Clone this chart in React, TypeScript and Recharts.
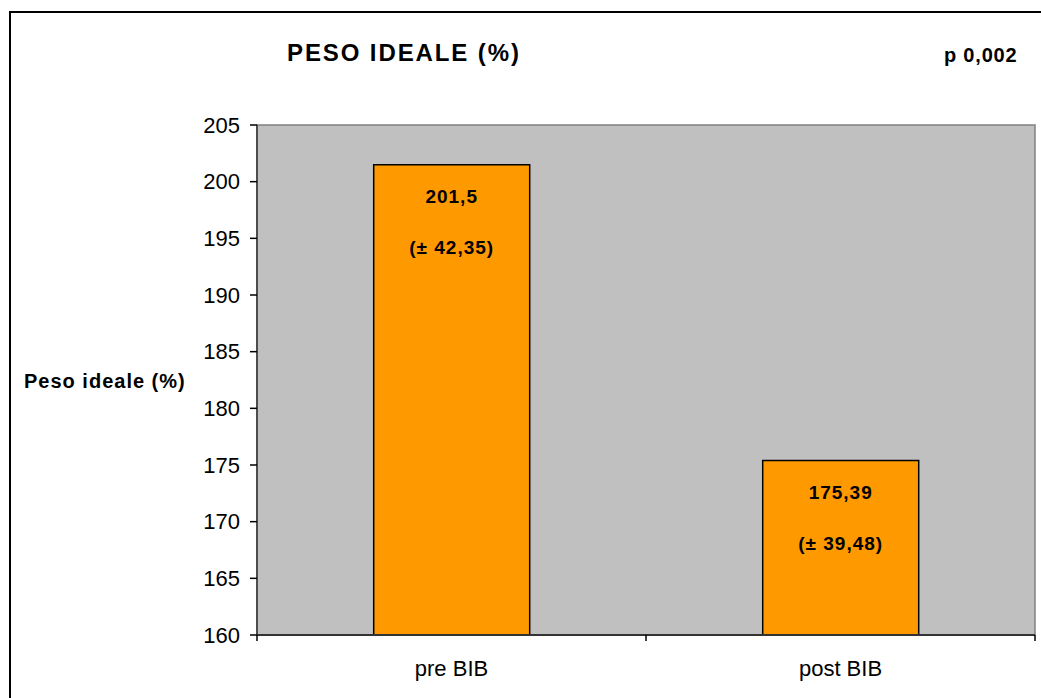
import { Bar, BarChart, LabelList, ReferenceArea, XAxis, YAxis } from "recharts"

const categories = ["pre BIB", "post BIB"]
const means = [201.5, 175.39]
const sds = [42.35, 39.48]
const yTicks = [160, 165, 170, 175, 180, 185, 190, 195, 200, 205]

const data = categories.map((name, i) => ({ name, value: means[i], sd: sds[i] }))

const fmt = (v: number) => String(v).replace(".", ",")

const W = 1041
const H = 698
const PLOT_LEFT = 257
const PLOT_RIGHT = 1035
const HALF_BAND = (PLOT_RIGHT - PLOT_LEFT) / (2 * categories.length)
const font = "'Liberation Sans', Arial, sans-serif"

function XTick(props: any) {
  const { x, y, payload, index } = props
  const last = index === categories.length - 1
  return (
    <g>
      <line x1={x - HALF_BAND} x2={x - HALF_BAND} y1={y} y2={y + 6} stroke="#000" strokeWidth={1.5} />
      {last && <line x1={x + HALF_BAND} x2={x + HALF_BAND} y1={y} y2={y + 6} stroke="#000" strokeWidth={1.5} />}
      <text x={x} y={y + 33} textAnchor="middle" dominantBaseline="central" fontSize={22} fill="#000" fontFamily={font}>
        {payload.value}
      </text>
    </g>
  )
}

function BarText(props: any) {
  const { x, y, width, index } = props
  const cx = x + width / 2
  return (
    <g fontFamily={font} fontWeight="bold" fontSize={19} fill="#000" letterSpacing={1}>
      <text x={cx} y={y + 32} textAnchor="middle" dominantBaseline="central">
        {fmt(means[index])}
      </text>
      <text x={cx} y={y + 83} textAnchor="middle" dominantBaseline="central">
        {`(± ${fmt(sds[index])})`}
      </text>
    </g>
  )
}

export default function App() {
  return (
    <div style={{ position: "absolute", left: 0, top: 0, width: W, height: H, background: "#fff", overflow: "hidden", fontFamily: font }}>
      <div style={{ position: "absolute", left: 9, top: 11, width: W + 20, height: H + 20, border: "2px solid #000", boxSizing: "border-box" }} />
      <div style={{ position: "absolute", left: 287, top: 38, fontSize: 24, fontWeight: "bold", letterSpacing: 1.9, whiteSpace: "nowrap", lineHeight: "30px" }}>
        PESO IDEALE (%)
      </div>
      <div style={{ position: "absolute", left: 944, top: 42, fontSize: 20, fontWeight: "bold", letterSpacing: 0.8, whiteSpace: "nowrap", lineHeight: "26px" }}>
        p 0,002
      </div>
      <div style={{ position: "absolute", left: 24, top: 368, fontSize: 20, fontWeight: "bold", letterSpacing: 1, whiteSpace: "nowrap", lineHeight: "26px" }}>
        Peso ideale (%)
      </div>
      <div style={{ position: "absolute", left: 0, top: 0 }}>
        <BarChart width={W} height={H} data={data} margin={{ top: 125, right: W - PLOT_RIGHT, bottom: 23, left: PLOT_LEFT - 60 }} barCategoryGap="30%">
          <ReferenceArea y1={160} y2={205} fill="#c0c0c0" fillOpacity={1} stroke="#808080" strokeWidth={1.5} />
          <XAxis
            dataKey="name"
            height={40}
            tickLine={false}
            tickSize={0}
            tickMargin={0}
            axisLine={{ stroke: "#333", strokeWidth: 2 }}
            tick={<XTick />}
            interval={0}
          />
          <YAxis
            width={60}
            domain={[160, 205]}
            ticks={yTicks}
            interval={0}
            tickSize={7}
            tickMargin={10}
            tickLine={{ stroke: "#000", strokeWidth: 1.5 }}
            axisLine={{ stroke: "#333", strokeWidth: 1.5 }}
            tick={{ fontSize: 22, fill: "#000", fontFamily: font }}
          />
          <Bar dataKey="value" fill="#ff9900" stroke="#000" strokeWidth={1.5} isAnimationActive={false}>
            <LabelList dataKey="value" content={<BarText />} />
          </Bar>
        </BarChart>
      </div>
    </div>
  )
}
